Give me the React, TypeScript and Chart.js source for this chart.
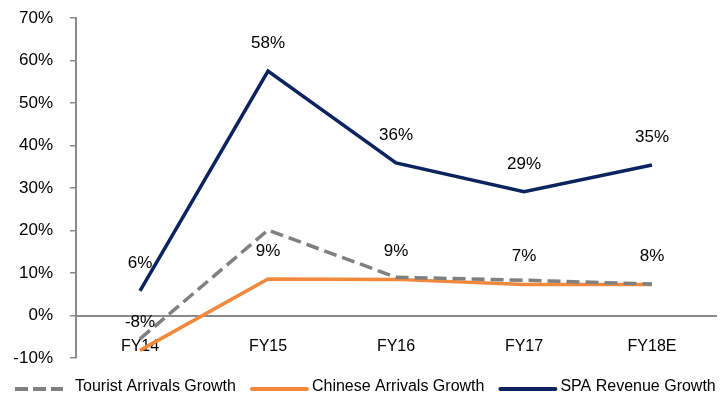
import React, { useEffect, useRef } from "react";
import { Chart, registerables } from "chart.js";

Chart.register(...registerables);

const categories = ["FY14", "FY15", "FY16", "FY17", "FY18E"];
const touristGrowth = [-5.5, 20.1, 9.0, 8.3, 7.4];
const chineseGrowth = [-8.2, 8.6, 8.5, 7.3, 7.3];
const spaGrowth = [5.8, 57.5, 35.9, 29.1, 35.4];
const chineseLabels = ["-8%", "9%", "9%", "7%", "8%"];
const spaLabels = ["6%", "58%", "36%", "29%", "35%"];
const seriesNames = ["Tourist Arrivals Growth", "Chinese Arrivals Growth", "SPA Revenue Growth"];

const GRAY = "#808080";
const ORANGE = "#F2883B";
const NAVY = "#0B2460";
const AXIS = "#8A8A8A";
const FONT = "'Liberation Sans', Arial, sans-serif";

const labelPlugin = {
  id: "valueLabels",
  afterDatasetsDraw(chart: any) {
    const ctx = chart.ctx;
    ctx.save();
    ctx.font = `17px ${FONT}`;
    ctx.fillStyle = "#000";
    ctx.textAlign = "center";
    ctx.textBaseline = "middle";
    const sets: [number, string[]][] = [
      [1, chineseLabels],
      [2, spaLabels],
    ];
    sets.forEach(([di, labels]) => {
      const meta = chart.getDatasetMeta(di);
      meta.data.forEach((pt: any, i: number) => {
        ctx.fillText(labels[i], pt.x, pt.y - 28);
      });
    });
    ctx.restore();
  },
};

const legendPlugin = {
  id: "customLegend",
  afterDraw(chart: any) {
    const ctx = chart.ctx;
    ctx.save();
    ctx.font = `16px ${FONT}`;
    ctx.textBaseline = "middle";
    ctx.fillStyle = "#000";
    const y = 387;
    let x = 15;
    chart.data.datasets.forEach((ds: any, i: number) => {
      const dashed = i === 0;
      const len = dashed ? 48 : 55;
      const gap = dashed ? 12 : 5;
      ctx.beginPath();
      ctx.strokeStyle = ds.borderColor;
      ctx.lineWidth = 4;
      ctx.lineCap = dashed ? "butt" : "round";
      ctx.setLineDash(dashed ? [13, 5] : []);
      ctx.moveTo(x, y + 2);
      ctx.lineTo(x + len, y + 2);
      ctx.stroke();
      ctx.setLineDash([]);
      const tx = x + len + gap;
      ctx.fillText(seriesNames[i], tx, y);
      x = tx + ctx.measureText(seriesNames[i]).width + 16;
    });
    ctx.restore();
  },
};

export default function App() {
  const canvasRef = useRef<HTMLCanvasElement | null>(null);

  useEffect(() => {
    if (!canvasRef.current) return;
    const chart = new Chart(canvasRef.current, {
      type: "line",
      data: {
        labels: categories,
        datasets: [
          {
            label: seriesNames[0],
            data: touristGrowth,
            borderColor: GRAY,
            borderWidth: 3.5,
            borderDash: [13, 6],
            pointRadius: 0,
            tension: 0,
          },
          {
            label: seriesNames[1],
            data: chineseGrowth,
            borderColor: ORANGE,
            borderWidth: 3.5,
            pointRadius: 0,
            tension: 0,
          },
          {
            label: seriesNames[2],
            data: spaGrowth,
            borderColor: NAVY,
            borderWidth: 3.5,
            pointRadius: 0,
            tension: 0,
          },
        ],
      },
      options: {
        animation: false,
        responsive: true,
        maintainAspectRatio: false,
        layout: { padding: { left: 0, right: 7, top: 18, bottom: 39 } },
        plugins: {
          legend: { display: false },
          tooltip: { enabled: false },
        },
        scales: {
          x: {
            type: "category",
            position: { y: 0 } as any,
            offset: true,
            grid: { display: false, drawTicks: false },
            border: { display: true, color: AXIS, width: 2 },
            ticks: {
              color: "#000",
              font: { family: FONT, size: 16 },
              padding: 21,
              maxRotation: 0,
            },
          },
          y: {
            min: -10,
            max: 70,
            afterFit: (s: any) => {
              s.width = 76;
              s.paddingTop = 0;
              s.paddingBottom = 0;
            },
            grid: {
              display: true,
              drawOnChartArea: false,
              drawTicks: true,
              tickLength: 6,
              color: AXIS,
              lineWidth: 1.5,
            },
            border: { display: true, color: AXIS, width: 2 },
            ticks: {
              stepSize: 10,
              color: "#000",
              font: { family: FONT, size: 17 },
              padding: 17,
              callback: (v: any) => `${v}%`,
            },
          },
        },
      },
      plugins: [labelPlugin, legendPlugin],
    });
    return () => chart.destroy();
  }, []);

  return (
    <div style={{ position: "absolute", left: 0, top: 0, width: 723, height: 397 }}>
      <canvas ref={canvasRef} />
    </div>
  );
}
